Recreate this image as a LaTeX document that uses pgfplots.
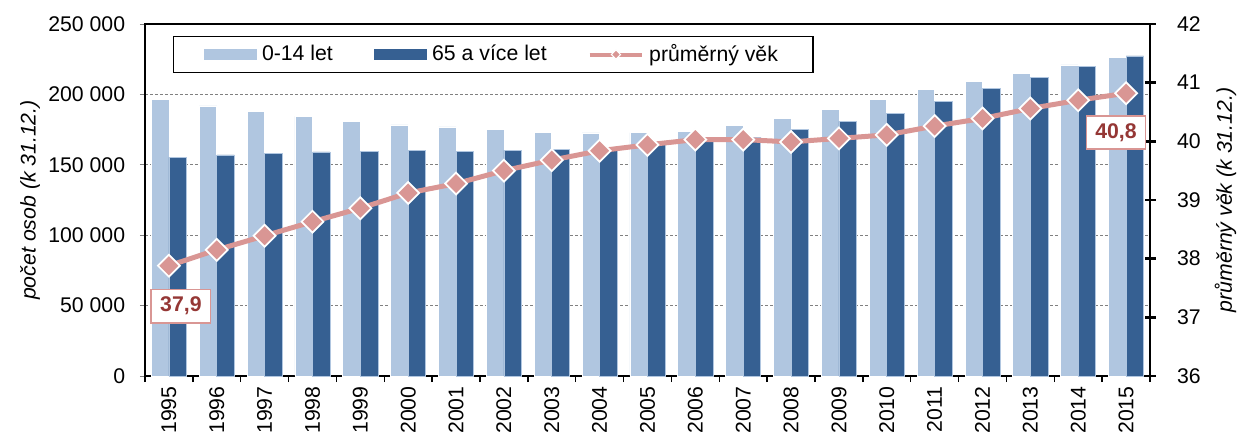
\documentclass[border=0pt]{standalone}
\usepackage{fontspec}
\setmainfont{Liberation Sans}
\usepackage{pgfplots}
\usepackage{pgfplotstable}
\pgfplotsset{compat=1.18}

\definecolor{barlight}{RGB}{176,198,224}
\definecolor{bardark}{RGB}{54,96,146}
\definecolor{agepink}{RGB}{217,150,148}
\definecolor{labelred}{RGB}{149,55,53}

% x = 0..20 stands for 1995..2015
\pgfplotstableread{
x young old age
0 196700 155300 37.88
1 191800 157000 38.15
2 187700 158200 38.39
3 184400 159100 38.63
4 181100 159800 38.86
5 178300 160300 39.12
6 176900 159800 39.28
7 175200 160300 39.50
8 173100 160700 39.68
9 172600 162000 39.84
10 172800 164500 39.94
11 174000 167000 40.03
12 178000 169700 40.03
13 183200 175400 39.99
14 189600 180900 40.05
15 196700 186300 40.11
16 203600 195300 40.26
17 209500 204300 40.39
18 215000 212100 40.56
19 220900 219900 40.70
20 226300 227300 40.82
}\datatable

\begin{document}
\begin{tikzpicture}
\pgfplotsset{every axis/.append style={font=\fontsize{8.5}{10}\selectfont}}

\begin{axis}[
name=main,
scale only axis,
width=402pt, height=140.8pt,
xmin=-0.5, xmax=20.5,
ymin=0, ymax=250000,
scaled y ticks=false,
axis line style={black, line width=0.7pt},
xtick={0,...,20},
xticklabels={1995,1996,1997,1998,1999,2000,2001,2002,2003,2004,2005,2006,2007,2008,2009,2010,2011,2012,2013,2014,2015},
xticklabel style={rotate=90, anchor=east, inner sep=2pt},
major x tick style={draw=none},
minor xtick={-0.5,0.5,...,20.5},
minor x tick style={black, line width=0.6pt},
minor tick length=2.4pt,
ytick={0,50000,100000,150000,200000,250000},
yticklabels={0,50 000,100 000,150 000,200 000,250 000},
yticklabel style={xshift=-2.4pt},
major y tick style={gray, line width=0.4pt},
major tick length=2pt,
tick align=outside,
tick pos=left,
ymajorgrids,
y grid style={gray, line width=0.4pt, dash pattern=on 1.2pt off 0.8pt},
ylabel={počet osob (k 31.12.)},
ylabel style={font=\fontsize{8.5}{10}\selectfont\itshape, anchor=center, inner sep=0pt, at={(axis description cs:-0.1144,0.5)}},
ybar=0pt,
bar width=0.366,
]
\addplot [fill=barlight, draw=white, line width=0.3pt, bar shift=-0.183] table [x=x, y=young] {\datatable};
\addplot [fill=bardark, draw=barlight, line width=0.3pt, bar shift=0.183] table [x=x, y=old] {\datatable};
\end{axis}

\begin{axis}[
scale only axis,
width=402pt, height=140.8pt,
xmin=-0.5, xmax=20.5,
ymin=36, ymax=42,
axis x line=none,
axis y line*=right,
y axis line style={black, line width=1.1pt},
ytick={36,37,38,39,40,41,42},
yticklabels={36,37,38,39,40,41,42},
tick align=center,
major tick length=4.4pt,
major y tick style={black, line width=1.1pt},
yticklabel style={inner sep=4pt, xshift=4.4pt},
ylabel={průměrný věk (k 31.12.)},
ylabel style={font=\fontsize{8.5}{10}\selectfont\itshape, anchor=center, inner sep=0pt, at={(axis description cs:1.075,0.5)}},
legend columns=3,
legend style={at={(0.028,0.966)}, anchor=north west, draw=black, line width=0.5pt,
  inner xsep=12pt, inner ysep=1pt, font=\fontsize{8.5}{10}\selectfont,
  /tikz/every even column/.append style={column sep=14.4pt}},
]
\addlegendimage{legend image code/.code={\fill[barlight] (0pt,-2pt) rectangle (20.8pt,2pt);}}
\addlegendentry{0-14 let}
\addlegendimage{legend image code/.code={\fill[bardark] (0pt,-2pt) rectangle (20.8pt,2pt);}}
\addlegendentry{65 a více let}
\addplot [agepink, line width=2pt, mark=square*, mark size=3.1pt,
  mark options={rotate=45, fill=agepink, draw=white, line width=0.7pt},
  legend image code/.code={\draw[agepink, line width=1.6pt] (0pt,0pt) -- (21pt,0pt);
    \fill[agepink, draw=white, line width=0.4pt, rotate around={45:(10.5pt,0pt)}] (9.2pt,-1.3pt) rectangle (11.8pt,1.3pt);}]
  table [x=x, y=age] {\datatable};
\addlegendentry{průměrný věk}
\node [draw=agepink, fill=white, text=labelred, line width=0.6pt, font=\fontsize{8.5}{10}\selectfont\bfseries,
  inner xsep=3.6pt, inner ysep=3pt] at (axis cs:0.25,37.19) {37,9};
\node [draw=agepink, fill=white, text=labelred, line width=0.6pt, font=\fontsize{8.5}{10}\selectfont\bfseries,
  inner xsep=3.6pt, inner ysep=3pt] at (axis cs:19.79,40.15) {40,8};
\end{axis}

\pgfresetboundingbox
\useasboundingbox ([xshift=-58pt,yshift=-24pt]main.south west) rectangle ([xshift=36pt,yshift=9.6pt]main.north east);
\end{tikzpicture}
\end{document}
